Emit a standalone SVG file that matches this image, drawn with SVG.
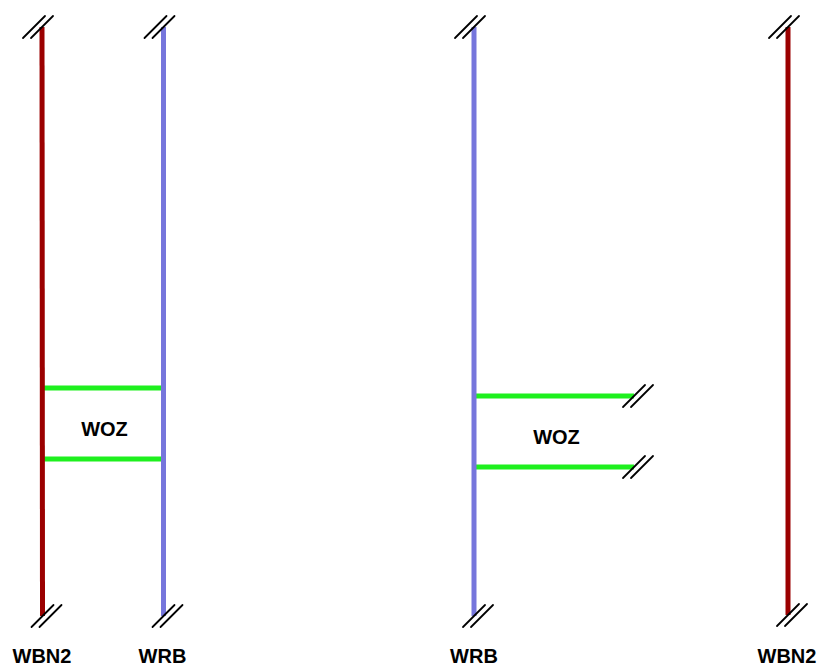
<svg xmlns="http://www.w3.org/2000/svg" width="821" height="668" viewBox="0 0 821 668">
<style>
.red{stroke:#9b0000;stroke-width:5;fill:none}
.blue{stroke:#7676dc;stroke-width:5;fill:none}
.green{stroke:#1ef01e;stroke-width:5;fill:none}
.brk{stroke:#000;stroke-width:1.8;fill:none;stroke-linecap:round}
.lbl{font-family:"Liberation Sans",Arial,sans-serif;font-weight:bold;font-size:20px;fill:#000;text-anchor:middle}
</style>
<defs>
<g id="brkTop"><line class="brk" x1="-11" y1="11" x2="11" y2="-11"/><line class="brk" x1="-19" y1="11" x2="3" y2="-11"/></g>
<g id="brkOut"><line class="brk" x1="-11" y1="11" x2="11" y2="-11"/><line class="brk" x1="-3" y1="11" x2="19" y2="-11"/></g>
</defs>
<g id="connectors">
<line class="green" x1="42" y1="388" x2="164" y2="388"/>
<line class="green" x1="42" y1="459" x2="164" y2="459"/>
<line class="green" x1="474" y1="396" x2="634" y2="396"/>
<line class="green" x1="474" y1="467" x2="634" y2="467"/>
<use href="#brkOut" x="634" y="396"/>
<use href="#brkOut" x="634" y="467"/>
</g>
<g id="node-wbn2-left">
<line class="red" x1="42" y1="27" x2="42.5" y2="616"/>
<use href="#brkTop" x="42" y="27"/>
<use href="#brkOut" x="42.5" y="616"/>
<text class="lbl" x="42" y="663">WBN2</text>
</g>
<g id="node-wrb-left">
<line class="blue" x1="163.5" y1="27" x2="163.5" y2="616"/>
<use href="#brkTop" x="163.5" y="27"/>
<use href="#brkOut" x="163.5" y="616"/>
<text class="lbl" x="162.5" y="663">WRB</text>
</g>
<g id="node-woz-left">
<text class="lbl" x="104.5" y="436">WOZ</text>
</g>
<g id="node-wrb-right">
<line class="blue" x1="474" y1="27" x2="474" y2="616"/>
<use href="#brkTop" x="474" y="27"/>
<use href="#brkOut" x="474" y="616"/>
<text class="lbl" x="474" y="663">WRB</text>
</g>
<g id="node-woz-right">
<text class="lbl" x="556.5" y="444">WOZ</text>
</g>
<g id="node-wbn2-right">
<line class="red" x1="788" y1="27" x2="788" y2="615"/>
<use href="#brkTop" x="788" y="27"/>
<use href="#brkOut" x="788" y="615"/>
<text class="lbl" x="787" y="663">WBN2</text>
</g>
</svg>
